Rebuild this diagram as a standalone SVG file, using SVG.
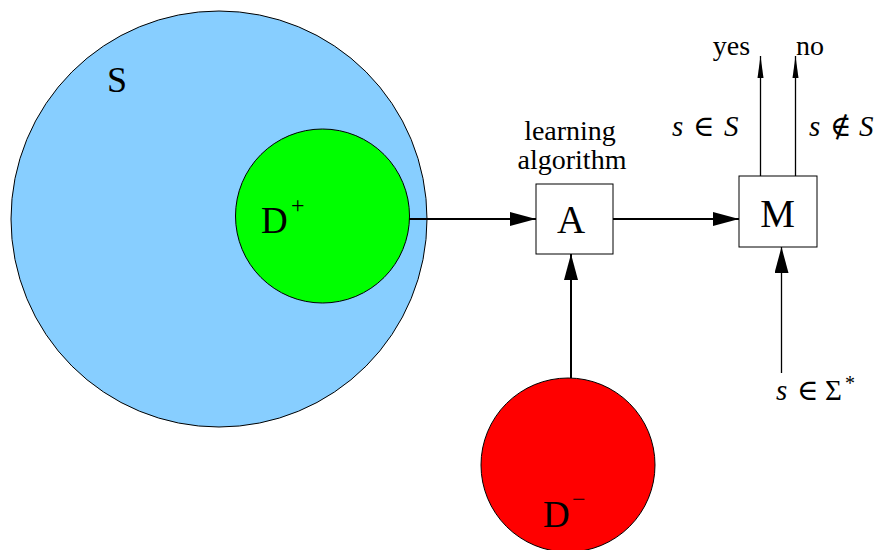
<svg xmlns="http://www.w3.org/2000/svg" width="882" height="550" viewBox="0 0 882 550">
<defs>
<style>
text{font-family:'Liberation Serif','Times New Roman',Times,'DejaVu Serif',serif;fill:#000}
.big{font-size:39px}
.med{font-size:28px}
.math{font-size:29px}
.it{font-style:italic}
.conn{stroke:#000;stroke-width:2;fill:none}
.thin{stroke:#000;stroke-width:1.3;fill:none}
.box{fill:#fff;stroke:#000;stroke-width:1}
.circ{stroke:#000;stroke-width:1}
</style>
<marker id="ah" markerWidth="26" markerHeight="14" refX="26" refY="7" orient="auto" markerUnits="userSpaceOnUse">
<path d="M0,0 L26,7 L0,14 Z" fill="#000"/>
</marker>
<marker id="ahs" markerWidth="22" markerHeight="8" refX="22" refY="4" orient="auto" markerUnits="userSpaceOnUse">
<path d="M0,1 L22,4 L0,7 Z" fill="#000"/>
</marker>
</defs>
<g id="S">
<circle class="circ" cx="219" cy="219" r="208" fill="#87CEFF"/>
<text x="107" y="92" font-size="36">S</text>
</g>
<g id="Dplus">
<circle class="circ" cx="322.5" cy="216" r="87" fill="#00FF00"/>
<text x="261" y="233" font-size="37">D</text>
<text x="291" y="213" font-size="24">+</text>
</g>
<g id="Dminus">
<circle class="circ" cx="568" cy="465" r="87" fill="#FF0000"/>
<text x="543" y="527" font-size="37">D</text>
<text x="572" y="507" font-size="24">−</text>
</g>
<g id="A">
<rect class="box" x="536" y="184" width="77" height="70"/>
<text class="big" x="571" y="233" text-anchor="middle">A</text>
<text class="med" x="570" y="140" text-anchor="middle">learning</text>
<text class="med" x="572" y="169" text-anchor="middle">algorithm</text>
</g>
<g id="M">
<rect class="box" x="739" y="176" width="78" height="71"/>
<text class="big" x="777.5" y="227" text-anchor="middle">M</text>
</g>
<g id="connectors">
<line class="conn" x1="409" y1="219" x2="536" y2="219" marker-end="url(#ah)"/>
<line class="conn" x1="613" y1="219" x2="739" y2="219" marker-end="url(#ah)"/>
<line class="conn" x1="571" y1="378" x2="571" y2="254" marker-end="url(#ah)"/>
<line class="thin" x1="781.5" y1="373" x2="781.5" y2="247" marker-end="url(#ah)"/>
<line class="thin" x1="760.5" y1="176" x2="760.5" y2="56" marker-end="url(#ahs)"/>
<line class="thin" x1="795.5" y1="176" x2="795.5" y2="56" marker-end="url(#ahs)"/>
</g>
<g id="labels">
<text class="med" x="731.5" y="55" text-anchor="middle">yes</text>
<text class="med" x="810" y="55" text-anchor="middle">no</text>
<text class="math" y="136"><tspan class="it" x="672">s</tspan><tspan x="693">∈</tspan><tspan class="it" x="724">S</tspan></text>
<text class="math" y="136"><tspan class="it" x="809">s</tspan><tspan x="830">∉</tspan><tspan class="it" x="859">S</tspan></text>
<text class="math" y="400"><tspan class="it" x="776">s</tspan><tspan x="797">∈</tspan><tspan x="825">Σ</tspan><tspan font-size="20" x="845" dy="-10">*</tspan></text>
</g>
</svg>
